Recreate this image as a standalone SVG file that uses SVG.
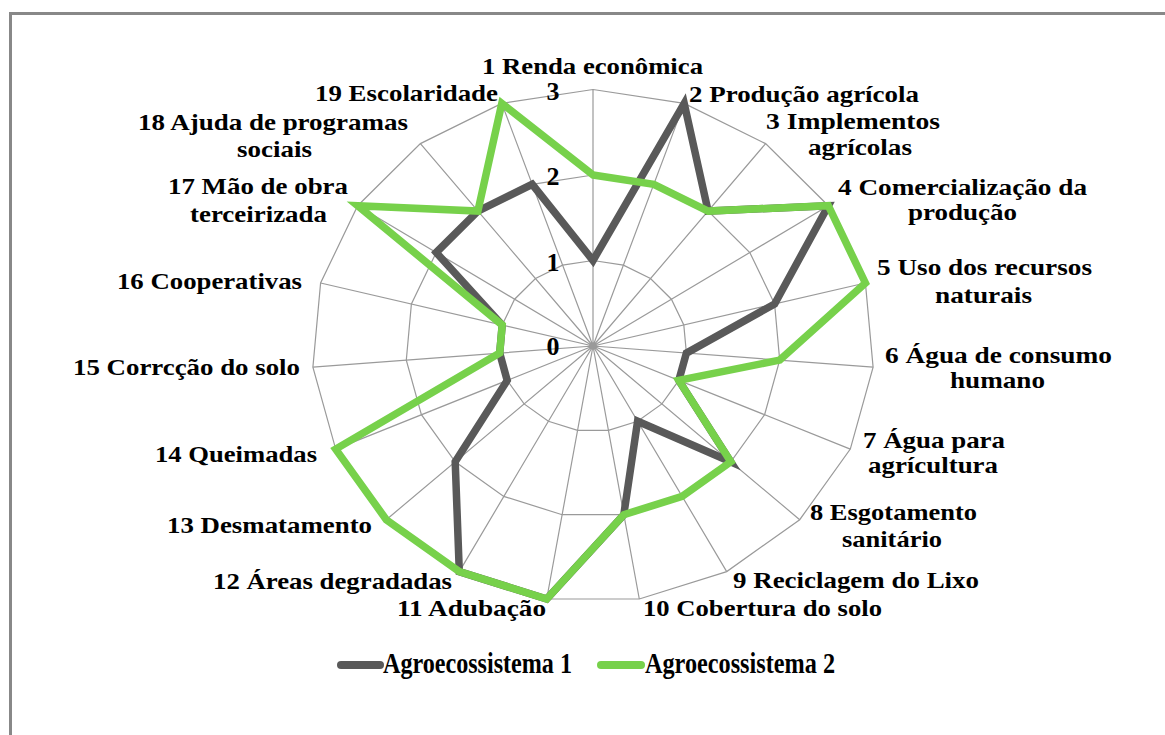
<svg xmlns="http://www.w3.org/2000/svg" width="1165" height="735" viewBox="0 0 1165 735">
<style>
.lbl{font-family:"Liberation Serif","Times New Roman",serif;font-weight:bold;font-size:23px;fill:#000}
.tick{font-family:"Liberation Serif","Times New Roman",serif;font-weight:bold;font-size:26px;fill:#000;text-anchor:middle}
.leg{font-family:"Liberation Serif","Times New Roman",serif;font-weight:bold;font-size:30px;fill:#000}
.grid{fill:none;stroke:#9a9a9a;stroke-width:1.2}
.s1{fill:none;stroke:#595959;stroke-width:7.5;stroke-linejoin:miter;stroke-miterlimit:10}
.s2{fill:none;stroke:#77d14b;stroke-width:7.5;stroke-linejoin:miter;stroke-miterlimit:10}
</style>
<rect width="1165" height="735" fill="#fff"/>
<path d="M10.5,735 V13.5 H1165" fill="none" stroke="#888" stroke-width="3"/>
<g id="grid">
<polygon class="grid" points="593,260.5 623.4,265.1 650.5,278.5 671.4,299.2 683.8,325 686.4,353.1 678.8,380.4 661.9,403.9 637.6,421.2 608.4,430.3 577.6,430.3 548.4,421.2 524.1,403.9 507.2,380.4 499.7,353.1 502.2,325 514.6,299.2 535.5,278.5 562.6,265.1"/>
<polygon class="grid" points="593,175 653.8,184.3 708.1,211.1 749.8,252.5 774.6,304 779.7,360.1 764.6,414.7 730.8,461.8 682.2,496.4 623.8,514.7 562.2,514.7 503.8,496.4 455.2,461.8 421.4,414.7 406.3,360.1 411.4,304 436.2,252.5 477.9,211.1 532.2,184.3"/>
<polygon class="grid" points="593,89.5 684.2,103.4 765.6,143.6 828.3,205.7 865.4,283 873.1,367.2 850.3,449.1 799.7,519.7 726.7,571.6 639.3,599 546.7,599 459.3,571.6 386.3,519.7 335.7,449.1 312.9,367.2 320.6,283 357.7,205.7 420.4,143.6 501.8,103.4"/>
<path class="grid" d="M593,346L593,89.5M593,346L684.2,103.4M593,346L765.6,143.6M593,346L828.3,205.7M593,346L865.4,283M593,346L873.1,367.2M593,346L850.3,449.1M593,346L799.7,519.7M593,346L726.7,571.6M593,346L639.3,599M593,346L546.7,599M593,346L459.3,571.6M593,346L386.3,519.7M593,346L335.7,449.1M593,346L312.9,367.2M593,346L320.6,283M593,346L357.7,205.7M593,346L420.4,143.6M593,346L501.8,103.4"/>
</g>
<g id="ticks">
<text class="tick" x="553" y="100">3</text>
<text class="tick" x="553" y="185">2</text>
<text class="tick" x="553" y="271">1</text>
<text class="tick" x="553" y="355">0</text>
</g>
<g id="connectors">
<polygon id="serie1" class="s1" points="593,260.5 684.2,103.4 708.1,211.1 828.3,205.7 774.6,304 686.4,353.1 678.8,380.4 730.8,461.8 637.6,421.2 623.8,514.7 546.7,599 459.3,571.6 455.2,461.8 507.2,380.4 499.7,353.1 502.2,325 436.2,252.5 477.9,211.1 532.2,184.3"/>
<polygon id="serie2" class="s2" points="593,175 653.8,184.3 708.1,211.1 828.3,205.7 865.4,283 779.7,360.1 678.8,380.4 730.8,461.8 682.2,496.4 623.8,514.7 546.7,599 459.3,571.6 386.3,519.7 335.7,449.1 499.7,353.1 502.2,325 357.7,205.7 477.9,211.1 501.8,103.4"/>
</g>
<g id="n1"><text class="lbl" x="482" y="74" textLength="221" lengthAdjust="spacingAndGlyphs">1 Renda econômica</text></g>
<g id="n2"><text class="lbl" x="689" y="102" textLength="230" lengthAdjust="spacingAndGlyphs">2 Produção agrícola</text></g>
<g id="n3"><text class="lbl" x="766" y="129" textLength="174" lengthAdjust="spacingAndGlyphs">3 Implementos</text><text class="lbl" x="808" y="155" textLength="104" lengthAdjust="spacingAndGlyphs">agrícolas</text></g>
<g id="n4"><text class="lbl" x="838" y="195" textLength="249" lengthAdjust="spacingAndGlyphs">4 Comercialização da</text><text class="lbl" x="908" y="220" textLength="109" lengthAdjust="spacingAndGlyphs">produção</text></g>
<g id="n5"><text class="lbl" x="877" y="275" textLength="215" lengthAdjust="spacingAndGlyphs">5 Uso dos recursos</text><text class="lbl" x="935" y="303" textLength="97" lengthAdjust="spacingAndGlyphs">naturais</text></g>
<g id="n6"><text class="lbl" x="885" y="363" textLength="227" lengthAdjust="spacingAndGlyphs">6 Água de consumo</text><text class="lbl" x="950" y="388" textLength="95" lengthAdjust="spacingAndGlyphs">humano</text></g>
<g id="n7"><text class="lbl" x="863" y="448" textLength="142" lengthAdjust="spacingAndGlyphs">7 Água para</text><text class="lbl" x="868" y="473" textLength="130" lengthAdjust="spacingAndGlyphs">agrícultura</text></g>
<g id="n8"><text class="lbl" x="810" y="520" textLength="167" lengthAdjust="spacingAndGlyphs">8 Esgotamento</text><text class="lbl" x="842" y="547" textLength="100" lengthAdjust="spacingAndGlyphs">sanitário</text></g>
<g id="n9"><text class="lbl" x="733" y="588" textLength="246" lengthAdjust="spacingAndGlyphs">9 Reciclagem do Lixo</text></g>
<g id="n10"><text class="lbl" x="643" y="616" textLength="239" lengthAdjust="spacingAndGlyphs">10 Cobertura do solo</text></g>
<g id="n11"><text class="lbl" x="397" y="616" textLength="149" lengthAdjust="spacingAndGlyphs">11 Adubação</text></g>
<g id="n12"><text class="lbl" x="213" y="589" textLength="239" lengthAdjust="spacingAndGlyphs">12 Áreas degradadas</text></g>
<g id="n13"><text class="lbl" x="167" y="533" textLength="205" lengthAdjust="spacingAndGlyphs">13 Desmatamento</text></g>
<g id="n14"><text class="lbl" x="155" y="462" textLength="162" lengthAdjust="spacingAndGlyphs">14 Queimadas</text></g>
<g id="n15"><text class="lbl" x="73" y="375" textLength="227" lengthAdjust="spacingAndGlyphs">15 Corrcção do solo</text></g>
<g id="n16"><text class="lbl" x="117" y="289" textLength="185" lengthAdjust="spacingAndGlyphs">16 Cooperativas</text></g>
<g id="n17"><text class="lbl" x="168" y="194" textLength="180" lengthAdjust="spacingAndGlyphs">17 Mão de obra</text><text class="lbl" x="190" y="222" textLength="137" lengthAdjust="spacingAndGlyphs">terceirizada</text></g>
<g id="n18"><text class="lbl" x="138" y="130" textLength="270" lengthAdjust="spacingAndGlyphs">18 Ajuda de programas</text><text class="lbl" x="237" y="157" textLength="75" lengthAdjust="spacingAndGlyphs">sociais</text></g>
<g id="n19"><text class="lbl" x="315" y="101" textLength="183" lengthAdjust="spacingAndGlyphs">19 Escolaridade</text></g>
<g id="legend">
<line x1="341" y1="665" x2="380" y2="665" stroke="#595959" stroke-width="8" stroke-linecap="round"/>
<text class="leg" x="383" y="673" textLength="189" lengthAdjust="spacingAndGlyphs">Agroecossistema 1</text>
<line x1="601" y1="665" x2="641" y2="665" stroke="#77d14b" stroke-width="8" stroke-linecap="round"/>
<text class="leg" x="645" y="673" textLength="190" lengthAdjust="spacingAndGlyphs">Agroecossistema 2</text>
</g>
</svg>
